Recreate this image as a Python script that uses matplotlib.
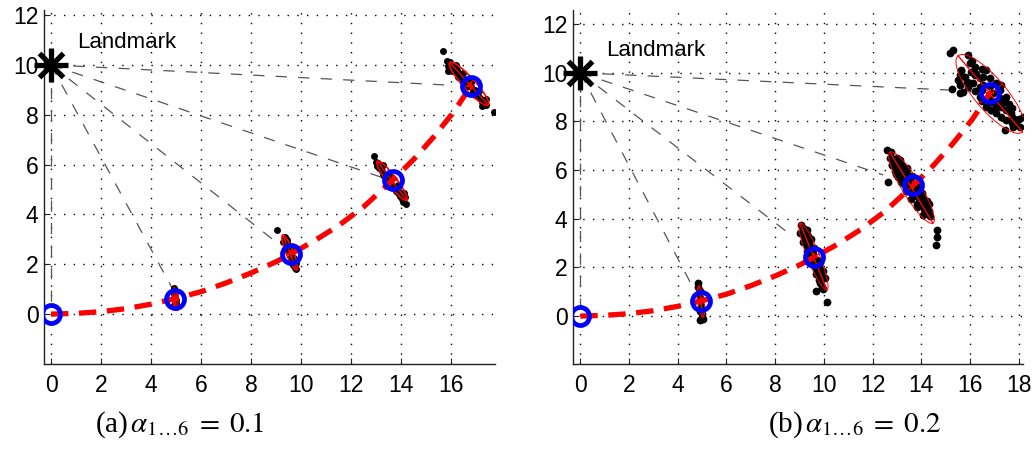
import numpy as np
import matplotlib
matplotlib.use("Agg")
import matplotlib.pyplot as plt
from matplotlib.patches import Ellipse

# ---------------- data ----------------
landmark = (0.0, 10.0)
pose_x = [0.0, 4.96, 9.6, 13.67, 16.8]
pose_y = [0.0, 0.62, 2.42, 5.38, 9.15]

path_x = [0, 1, 2, 3, 4, 4.96, 6, 7, 8, 9, 9.6, 10.5, 11.5, 12.5, 13.67, 14.5, 15.3, 16.1, 16.8]
path_y = [0, 0.03, 0.1, 0.22, 0.4, 0.62, 0.9, 1.25, 1.65, 2.1, 2.42, 2.92, 3.55, 4.3, 5.38, 6.2, 7.1, 8.1, 9.15]

# observation line end points (landmark -> particle)
obs_a_x = [0.0, 4.89, 9.16, 13.16, 15.83]
obs_a_y = [0.2, 0.96, 2.77, 5.51, 9.19]
obs_b_x = [0.0, 4.5, 8.74, 12.43, 15.17]
obs_b_y = [0.2, 1.41, 3.26, 5.8, 9.29]

# particles, panel (a)
pa_x = [4.9, 4.92, 4.95, 4.97, 5.0, 4.98, 4.93, 5.02, 4.96, 4.9,
        9.03, 9.35, 9.4, 9.38, 9.45, 9.5, 9.48, 9.55, 9.6, 9.62, 9.68, 9.7, 9.75, 9.78, 9.8, 9.72, 9.58, 9.42,
        9.44, 9.29, 9.81, 9.66,
        12.93, 13.0, 13.05, 13.1, 13.15, 13.25, 13.3, 13.4, 13.5, 13.55, 13.65, 13.75, 13.8, 13.9, 13.95,
        14.05, 14.1, 14.2, 14.15, 13.2, 13.6, 13.85, 14.0,
        13.30, 13.14, 13.54, 13.38, 13.90, 13.74, 14.14, 13.98,
        15.69, 15.85, 15.9, 15.95, 16.0, 16.1, 16.2, 16.25, 16.35, 16.45, 16.5, 16.6, 16.7, 16.8, 16.9,
        17.0, 17.1, 17.2, 17.3, 17.4, 17.23, 16.05, 16.4, 16.95, 17.73, 15.88,
        16.21, 16.03, 16.47, 16.30, 16.81, 16.63, 17.14, 16.96, 17.41, 17.23]
pa_y = [1.05, 0.95, 0.85, 0.7, 0.55, 0.45, 0.35, 0.3, 0.6, 0.8,
        3.37, 3.1, 3.0, 2.85, 2.8, 2.65, 2.55, 2.5, 2.3, 2.2, 2.1, 2.0, 1.95, 1.85, 1.8, 2.25, 2.7, 2.95,
        2.96, 2.90, 2.04, 1.98,
        6.36, 6.1, 5.95, 6.05, 5.85, 5.75, 5.6, 5.5, 5.45, 5.3, 5.2, 5.1, 4.95, 4.85, 4.75,
        4.6, 4.5, 4.4, 4.7, 5.9, 5.45, 5.05, 4.85,
        5.97, 5.85, 5.65, 5.53, 5.17, 5.05, 4.85, 4.73,
        10.54, 10.15, 9.95, 10.1, 9.9, 9.9, 9.7, 9.8, 9.55, 9.5, 9.35, 9.35, 9.15, 9.1, 8.9,
        8.9, 8.7, 8.65, 8.45, 8.4, 8.33, 9.75, 9.65, 9.0, 8.1, 9.75,
        9.99, 9.83, 9.69, 9.53, 9.32, 9.16, 8.95, 8.79, 8.65, 8.49]

# particles, panel (b)
pb_x = [4.85, 4.85, 4.9, 4.88, 4.92, 4.95, 4.97, 4.98, 5.0, 4.92, 5.05, 4.9,
        9.05, 9.15, 9.1, 9.2, 9.25, 9.15, 9.3, 9.35, 9.4, 9.45, 9.55, 9.6, 9.65, 9.7, 9.75, 9.8, 9.85,
        9.9, 9.95, 9.67, 9.4, 9.5, 9.7, 9.8, 9.85, 9.35, 10.11, 9.25, 9.55,
        9.30, 9.02, 9.45, 9.17, 9.60, 9.32, 9.82, 9.54, 9.97, 9.69, 10.03, 9.85,
        12.57, 12.77, 12.7, 12.85, 12.8, 12.95, 13.0, 12.9, 13.1, 13.15, 13.2, 13.05, 13.3, 13.35, 13.4,
        13.25, 13.5, 13.55, 13.6, 13.45, 13.75, 13.8, 13.65, 13.9, 13.95, 13.8, 14.05, 14.1, 14.2, 14.25,
        14.35, 14.05, 13.9, 13.2, 12.64, 14.62, 14.62, 14.58, 13.0, 13.4, 14.3,
        13.14, 12.80, 13.39, 12.96, 13.60, 13.17, 13.83, 13.35, 14.01, 13.58, 14.22, 13.83, 14.33, 14.08,
        13.37, 13.98, 13.82, 13.38,
        15.3, 15.16, 15.92, 15.98, 15.64, 15.57, 15.78, 16.05, 16.26, 16.39, 16.53, 16.12, 15.92, 15.71,
        15.57, 16.39, 17.08, 17.28, 16.8, 17.01, 17.21, 16.67, 16.87, 17.08, 17.28, 17.49, 17.69, 17.76,
        17.9, 18.03, 17.76, 17.49, 18.17, 17.42, 17.21, 15.57, 15.51, 16.19, 16.67, 16.94, 16.39, 17.08,
        15.27, 17.42, 18.24, 16.5, 16.0, 17.6,
        16.09, 15.63, 16.49, 16.19, 15.88, 16.81, 16.51, 16.20, 17.17, 16.49, 17.46, 17.15, 16.85,
        17.70, 17.25, 18.00, 17.72, 16.82, 16.84]
pb_y = [1.35, 1.2, 1.05, 0.9, 0.75, 0.4, 0.25, 0.1, -0.05, -0.15, -0.1, 0.2,
        3.75, 3.6, 3.4, 3.3, 3.1, 3.05, 2.9, 2.75, 2.6, 2.45, 2.3, 2.15, 2.0, 1.85, 1.7, 1.5, 1.35,
        1.2, 1.1, 1.03, 3.0, 2.8, 2.3, 2.0, 1.7, 3.3, 0.56, 3.55, 2.55,
        3.53, 3.41, 3.16, 3.04, 2.78, 2.67, 2.23, 2.12, 1.86, 1.74, 1.56, 1.48,
        6.82, 6.75, 6.5, 6.45, 6.2, 6.3, 6.05, 5.95, 5.9, 6.1, 5.75, 5.7, 5.65, 5.85, 5.5,
        5.45, 5.35, 5.6, 5.2, 5.15, 5.15, 5.0, 4.95, 4.85, 4.7, 4.6, 4.55, 4.4, 4.5, 4.25,
        4.1, 4.85, 5.3, 6.2, 5.52, 3.53, 3.26, 2.92, 6.5, 6.0, 4.6,
        6.41, 6.20, 6.09, 5.83, 5.75, 5.49, 5.43, 5.13, 5.07, 4.81, 4.73, 4.49, 4.33, 4.17,
        5.85, 4.82, 5.19, 5.39,
        10.93, 10.8, 10.73, 10.39, 10.11, 9.9, 9.84, 10.04, 9.97, 9.77, 9.84, 9.56, 9.43, 9.22,
        9.15, 9.43, 9.56, 9.5, 8.88, 8.81, 8.95, 8.6, 8.47, 8.33, 8.6, 8.47, 8.33, 8.13,
        7.99, 7.78, 7.78, 8.06, 8.19, 8.81, 9.29, 9.5, 9.7, 10.25, 10.11, 9.15, 9.02, 8.6,
        9.32, 7.64, 8.19, 9.3, 9.6, 8.7,
        10.47, 10.08, 10.15, 9.89, 9.64, 9.77, 9.51, 9.25, 9.42, 8.84, 9.01, 8.75, 8.49,
        8.56, 8.17, 8.11, 7.93, 9.45, 8.81]

# covariance ellipses: centre, major length, minor length, angle (deg)
ea_cx = [4.96, 9.55, 13.64, 16.72]
ea_cy = [0.65, 2.47, 5.35, 9.24]
ea_len = [0.8, 1.5, 1.95, 2.3]
ea_wid = [0.2, 0.3, 0.38, 0.48]
ea_ang = [-85, -68, -53, -48]

eb_cx = [4.95, 9.57, 13.59, 16.83]
eb_cy = [0.6, 2.45, 5.28, 9.13]
eb_len = [1.3, 2.96, 3.41, 4.1]
eb_wid = [0.25, 0.5, 0.75, 1.3]
eb_ang = [-82, -68.2, -58.8, -49.8]

xticks_a = [0, 2, 4, 6, 8, 10, 12, 14, 16]
xticks_b = [0, 2, 4, 6, 8, 10, 12, 14, 16, 18]
yticks = [0, 2, 4, 6, 8, 10, 12]
captions = [r"(a)$\,\alpha_{1\ldots6}\;=\;0.1$", r"(b)$\,\alpha_{1\ldots6}\;=\;0.2$"]

# ---------------- figure ----------------
plt.rcParams['mathtext.fontset'] = 'stix'
W, H = 1036, 451
fig = plt.figure(figsize=(W / 100, H / 100), dpi=100)

def px_axes(x0, x1, ytop, ybot):
    return fig.add_axes([x0 / W, 1 - ybot / H, (x1 - x0) / W, (ybot - ytop) / H])

ax_a = px_axes(44, 495, 10, 364)
ax_b = px_axes(573, 1023, 10, 364)

panels = [
    (ax_a, (-0.28, 17.76), (-2.0, 12.2), xticks_a, obs_a_x, obs_a_y, pa_x, pa_y,
     (ea_cx, ea_cy, ea_len, ea_wid, ea_ang), 5.0, 1.2),
    (ax_b, (-0.30, 18.17), (-1.97, 12.58), xticks_b, obs_b_x, obs_b_y, pb_x, pb_y,
     (eb_cx, eb_cy, eb_len, eb_wid, eb_ang), 5.6, 0.7),
]

for (ax, xl, yl, xt, ox, oy, px_, py_, ell, ms, elw) in panels:
    ax.set_xlim(*xl)
    ax.set_ylim(*yl)
    ax.set_xticks(xt)
    ax.set_yticks(yticks)
    ax.grid(True, color='black', linestyle=(0, (1, 6)), linewidth=1.0)
    ax.set_axisbelow(True)
    for s in ('top', 'right'):
        ax.spines[s].set_visible(False)
    for s in ('left', 'bottom'):
        ax.spines[s].set_color('#222222')
        ax.spines[s].set_linewidth(1.0)
    ax.tick_params(direction='in', length=4, width=0.8, color='#222222',
                   labelsize=16.5, labelcolor='black')
    ax.tick_params(axis='x', pad=7)
    ax.tick_params(axis='y', pad=4)
    for lab in ax.get_xticklabels() + ax.get_yticklabels():
        lab.set_family('Liberation Sans')

    # observation lines
    for ex, ey in zip(ox, oy):
        ax.plot([landmark[0], ex], [landmark[1], ey], color='#555555', lw=0.9,
                linestyle=(0, (9, 9)), zorder=2)

    # particles
    ax.plot(px_, py_, 'o', color='black', ms=ms, mew=0, zorder=3)

    # ellipses and principal axes
    cx, cy, ln, wd, ang = ell
    for i in range(len(cx)):
        e = Ellipse((cx[i], cy[i]), ln[i], wd[i], angle=ang[i], fill=False,
                    edgecolor='red', lw=elw, zorder=4)
        ax.add_patch(e)
        t = np.deg2rad(ang[i])
        dx, dy = np.cos(t) * ln[i] / 2, np.sin(t) * ln[i] / 2
        ax.plot([cx[i] - dx, cx[i] + dx], [cy[i] - dy, cy[i] + dy], color='red', lw=1.0, zorder=4)
        mx, my = -np.sin(t) * wd[i] / 2, np.cos(t) * wd[i] / 2
        ax.plot([cx[i] - mx, cx[i] + mx], [cy[i] - my, cy[i] + my], color='red', lw=0.8, zorder=4)

    # path
    ax.plot(path_x, path_y, color='red', lw=3.8, linestyle=(0, (3.3, 2.0)),
            dash_capstyle='butt', zorder=5)

    # poses
    ax.plot(pose_x, pose_y, 'o', ms=13, mfc='none', mec='blue', mew=3.4, zorder=6)
    ax.plot(pose_x[1:], pose_y[1:], '+', ms=6, color='red', mew=1.4, zorder=7)

    # landmark
    ax.plot([landmark[0]], [landmark[1]], '+', ms=24, mew=3.8, color='black', zorder=8, clip_on=False)
    ax.plot([landmark[0]], [landmark[1]], 'x', ms=17, mew=3.8, color='black', zorder=8, clip_on=False)
    ax.text(1.05, 10.9, 'Landmark', fontsize=16, family='Liberation Sans', va='center', ha='left')

fig.text(180 / W, 1 - 425 / H, captions[0], fontsize=21, family='Liberation Serif',
         ha='center', va='center')
fig.text(855 / W, 1 - 425 / H, captions[1], fontsize=21, family='Liberation Serif',
         ha='center', va='center')

fig.savefig('out.png', dpi=100)
